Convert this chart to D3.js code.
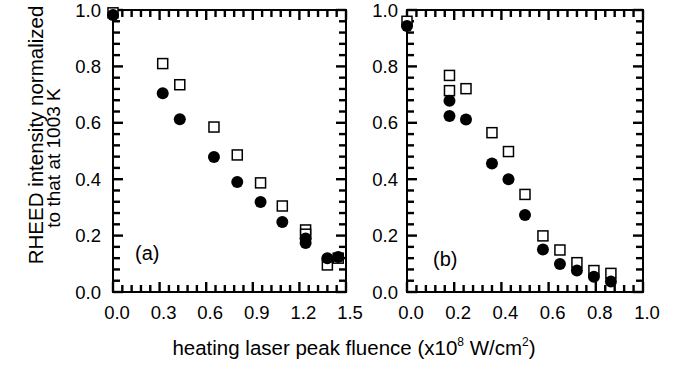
<!DOCTYPE html>
<html>
<head>
<meta charset="utf-8">
<script src="https://cdn.jsdelivr.net/npm/d3@7/dist/d3.min.js"></script>
<style>
  body { margin: 0; background: #fff; }
  svg { display: block; font-family: "Liberation Sans", Arial, sans-serif; }
</style>
</head>
<body>
<svg id="chart" width="674" height="375"></svg>
<script>
// panel (a)
const aSquareX = [0, 0.32, 0.43, 0.65, 0.80, 0.95, 1.09, 1.24, 1.24, 1.38, 1.45];
const aSquareY = [0.99, 0.81, 0.735, 0.585, 0.486, 0.387, 0.305, 0.22, 0.205, 0.096, 0.12];
const aCircleX = [0, 0.32, 0.43, 0.65, 0.80, 0.95, 1.09, 1.24, 1.24, 1.38, 1.45];
const aCircleY = [0.982, 0.705, 0.613, 0.479, 0.39, 0.319, 0.248, 0.19, 0.174, 0.12, 0.124];
// panel (b)
const bSquareX = [0, 0.18, 0.18, 0.25, 0.36, 0.43, 0.50, 0.576, 0.648, 0.72, 0.792, 0.864];
const bSquareY = [0.96, 0.768, 0.714, 0.721, 0.565, 0.498, 0.346, 0.199, 0.149, 0.104, 0.076, 0.066];
const bCircleX = [0, 0.18, 0.18, 0.25, 0.36, 0.43, 0.50, 0.576, 0.648, 0.72, 0.792, 0.864];
const bCircleY = [0.943, 0.678, 0.624, 0.612, 0.456, 0.40, 0.273, 0.151, 0.099, 0.076, 0.054, 0.037];

const aTicks = [0, 0.3, 0.6, 0.9, 1.2, 1.5];
const bTicks = [0, 0.2, 0.4, 0.6, 0.8, 1.0];
const yTicks = [0, 0.2, 0.4, 0.6, 0.8, 1.0];

const svg = d3.select('#chart');
const yTop = 10, yBottom = 292;
const tickColor = '#000';

const y = d3.scaleLinear().domain([0, 1]).range([yBottom, yTop]);

function panel(opts) {
    const x = d3.scaleLinear().domain([0, opts.max]).range([opts.left, opts.right]);
    const g = svg.append('g');
    const fmt = d => d.toFixed(1);
    const minorX = d3.range(0, opts.max + 1e-9, opts.minor);
    const minorY = d3.range(0, 1 + 1e-9, 0.04);
    const isMajor = (v, step) => Math.abs(v / step - Math.round(v / step)) < 1e-6;
    const lenX = d => isMajor(d, opts.ticks[1]) ? 10 : 7;
    const lenY = d => isMajor(d, 0.2) ? 10 : 7;

    // inward ticks on all four sides
    const tg = g.append('g').attr('fill', tickColor);
    tg.selectAll('.tb').data(minorX).enter().append('rect').attr('class', 'tb')
        .attr('x', d => x(d) - 1.2).attr('width', 2.4)
        .attr('y', d => yBottom - lenX(d)).attr('height', lenX);
    tg.selectAll('.tt').data(minorX).enter().append('rect').attr('class', 'tt')
        .attr('x', d => x(d) - 1.2).attr('width', 2.4)
        .attr('y', yTop).attr('height', lenX);
    tg.selectAll('.tl').data(minorY).enter().append('rect').attr('class', 'tl')
        .attr('y', d => y(d) - 1.2).attr('height', 2.4)
        .attr('x', opts.left).attr('width', lenY);
    tg.selectAll('.tr').data(minorY).enter().append('rect').attr('class', 'tr')
        .attr('y', d => y(d) - 1.2).attr('height', 2.4)
        .attr('x', d => opts.right - lenY(d)).attr('width', lenY);

    // tick labels
    g.selectAll('.xlab').data(opts.ticks).enter().append('text').attr('class', 'xlab')
        .attr('x', d => x(d) + 4).attr('y', yBottom + 27)
        .attr('text-anchor', 'middle').attr('font-size', 18.5).attr('fill', '#000')
        .text(fmt);
    g.selectAll('.ylab').data(yTicks).enter().append('text').attr('class', 'ylab')
        .attr('x', opts.left - opts.ypad).attr('y', d => y(d) + 6.5)
        .attr('text-anchor', 'end').attr('font-size', 18.5).attr('fill', '#000')
        .text(fmt);

    g.append('rect')
        .attr('x', opts.left).attr('y', yTop)
        .attr('width', opts.right - opts.left).attr('height', yBottom - yTop)
        .attr('fill', 'none').attr('stroke', '#000').attr('stroke-width', 2);

    const sq = d3.zip(opts.sx, opts.sy);
    g.selectAll('.sq').data(sq).enter().append('rect')
        .attr('class', 'sq')
        .attr('x', d => x(d[0]) - 5).attr('y', d => y(d[1]) - 5)
        .attr('width', 10).attr('height', 10)
        .attr('fill', '#fff').attr('stroke', '#000').attr('stroke-width', 1.5);

    const ci = d3.zip(opts.cx, opts.cy);
    g.selectAll('.ci').data(ci).enter().append('circle')
        .attr('class', 'ci')
        .attr('cx', d => x(d[0])).attr('cy', d => y(d[1]))
        .attr('r', 6).attr('fill', '#000');

    g.append('text').text(opts.label)
        .attr('x', opts.left + opts.labelDx).attr('y', opts.labelY)
        .attr('font-size', 20).attr('fill', '#000');
}

panel({ left: 113, right: 346, max: 1.5, minor: 0.06, ticks: aTicks, ypad: 12,
        sx: aSquareX, sy: aSquareY, cx: aCircleX, cy: aCircleY,
        label: '(a)', labelDx: 22, labelY: 260 });
panel({ left: 407, right: 643, max: 1.0, minor: 0.04, ticks: bTicks, ypad: 9,
        sx: bSquareX, sy: bSquareY, cx: bCircleX, cy: bCircleY,
        label: '(b)', labelDx: 26, labelY: 266 });

// axis titles
const xt = svg.append('text')
    .attr('x', 354).attr('y', 355)
    .attr('text-anchor', 'middle').attr('font-size', 20.5).attr('fill', '#000');
xt.append('tspan').text('heating laser peak fluence (x10');
xt.append('tspan').text('8').attr('font-size', 12).attr('dy', -9);
xt.append('tspan').text(' W/cm').attr('dy', 9);
xt.append('tspan').text('2').attr('font-size', 12).attr('dy', -9);
xt.append('tspan').text(')').attr('dy', 9);

svg.append('text')
    .attr('transform', 'translate(43,135) rotate(-90)')
    .attr('text-anchor', 'middle').attr('font-size', 20.5).attr('fill', '#000')
    .text('RHEED intensity normalized');
svg.append('text')
    .attr('transform', 'translate(60,158) rotate(-90)')
    .attr('text-anchor', 'middle').attr('font-size', 19).attr('fill', '#000')
    .text('to that at 1003 K');
</script>
</body>
</html>
